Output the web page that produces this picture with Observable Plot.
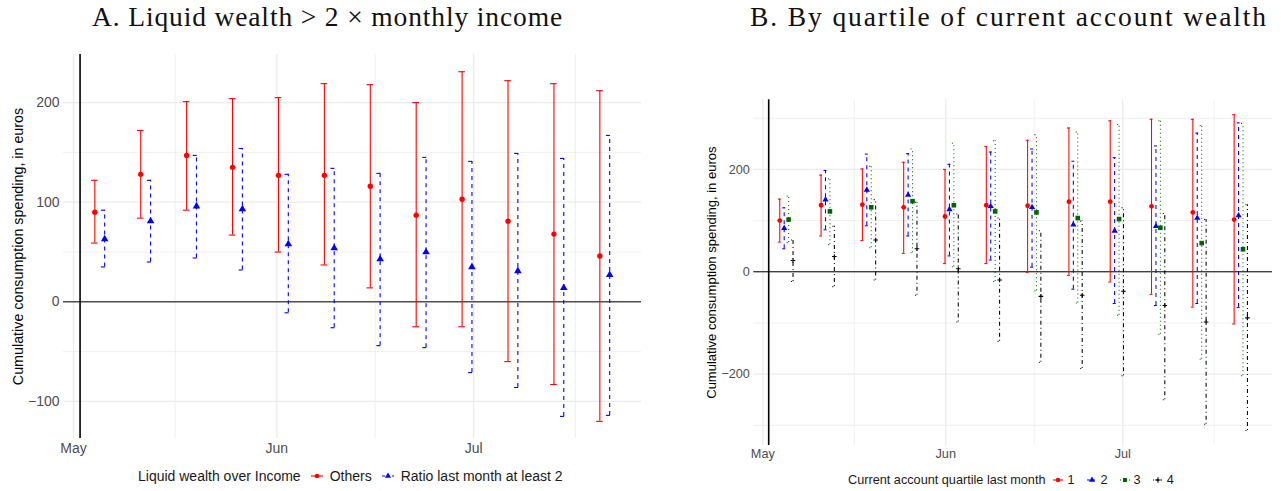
<!DOCTYPE html>
<html>
<head>
<meta charset="utf-8">
<script src="https://cdn.jsdelivr.net/npm/d3@7"></script>
<script src="https://cdn.jsdelivr.net/npm/@observablehq/plot@0.6"></script>
<style>
  html, body { margin: 0; padding: 0; background: #fff; }
  #root { position: relative; width: 1281px; height: 491px; overflow: hidden; font-family: "Liberation Sans", Arial, sans-serif; }
  .panel { position: absolute; top: 0; }
  .title { position: absolute; top: 0; font-family: "Liberation Serif", "DejaVu Serif", serif; font-size: 27.5px; color: #111; white-space: nowrap; line-height: 34px; }
  .legend { position: absolute; color: #1a1a1a; white-space: nowrap; display: flex; align-items: center; height: 20px; }
  .legend svg { display: block; }
</style>
</head>
<body>
<div id="root"></div>
<script>
// Weekly observation dates (estimates are reported once a week)
const weeks = ["2020-05-05", "2020-05-12", "2020-05-19", "2020-05-26", "2020-06-02", "2020-06-09",
               "2020-06-16", "2020-06-23", "2020-06-30", "2020-07-07", "2020-07-14", "2020-07-21"];

// Panel A: liquid wealth over income
const othersEst = [90, 128, 147, 135, 127, 127, 116, 87, 103, 81, 68, 46];
const othersLo  = [59, 84, 92, 67, 50, 37, 14, -25, -25, -60, -83, -120];
const othersHi  = [122, 172, 201, 204, 205, 219, 218, 200, 231, 222, 219, 212];
const ratioEst  = [63, 81, 96, 93, 58, 54, 43, 50, 35, 31, 14, 27];
const ratioLo   = [35, 40, 44, 32, -11, -26, -44, -46, -71, -86, -115, -114];
const ratioHi   = [92, 122, 147, 154, 128, 134, 129, 145, 141, 149, 144, 167];

// Panel B: quartiles of current account wealth
const q1Est = [100, 130, 131, 126, 108, 130, 129, 137, 137, 128, 116, 102];
const q1Lo  = [58, 70, 61, 36, 16, 16, -1, -7, -20, -44, -69, -102];
const q1Hi  = [142, 189, 201, 214, 200, 245, 257, 281, 295, 298, 298, 307];
const q2Est = [85, 141, 160, 150, 122, 128, 126, 92, 80, 89, 105, 110];
const q2Lo  = [45, 82, 90, 70, 31, 23, 9, -34, -62, -66, -62, -70];
const q2Hi  = [125, 198, 230, 231, 210, 234, 240, 216, 223, 246, 271, 291];
const q3Est = [102, 118, 126, 138, 130, 118, 116, 105, 103, 86, 56, 44];
const q3Lo  = [57, 53, 47, 37, 10, -19, -37, -61, -85, -122, -171, -203];
const q3Hi  = [148, 182, 206, 240, 251, 256, 268, 273, 288, 295, 286, 290];
const q4Est = [22, 30, 62, 45, 6, -16, -48, -46, -38, -66, -98, -90];
const q4Lo  = [-19, -29, -16, -46, -98, -136, -177, -189, -203, -250, -298, -310];
const q4Hi  = [62, 89, 141, 136, 113, 105, 80, 99, 125, 114, 102, 131];

// Axis tick labels
const monthTicks = ["2020-05-01", "2020-06-01", "2020-07-01"];
const midMonth   = ["2020-05-16T12:00Z", "2020-06-16T00:00Z", "2020-07-16T12:00Z"];
const yTicksA = [-100, 0, 100, 200];
const yMinorA = [-50, 50, 150];
const yTicksB = [-200, 0, 200];
const yMinorB = [-300, -100, 100, 300];
const eventDate = "2020-05-02";
const yLabel = "Cumulative consumption spending, in euros";

const DAY = 864e5;
const toDate = s => new Date(s);

// Build long-format rows for one series, dodged horizontally by `offset` days
function series(name, est, lo, hi, offset) {
  return weeks.map((w, i) => ({
    series: name,
    x: new Date(+toDate(w) + offset * DAY),
    est: est[i], lo: lo[i], hi: hi[i]
  }));
}

const grid = "#ebebeb";

// Error bar (vertical rule + caps) with its point estimate
function errorMarks(rows, {color, dash, symbol, r, cap, width, stroked = false}) {
  const capX1 = d => new Date(+d.x - cap * DAY);
  const capX2 = d => new Date(+d.x + cap * DAY);
  return [
    Plot.ruleX(rows, {x: "x", y1: "lo", y2: "hi", stroke: color, strokeWidth: width, strokeDasharray: dash}),
    Plot.ruleY(rows, {y: "lo", x1: capX1, x2: capX2, stroke: color, strokeWidth: width, strokeDasharray: dash}),
    Plot.ruleY(rows, {y: "hi", x1: capX1, x2: capX2, stroke: color, strokeWidth: width, strokeDasharray: dash}),
    Plot.dot(rows, stroked
      ? {x: "x", y: "est", symbol: () => symbol, r, stroke: color, strokeWidth: 1.1, fill: "none"}
      : {x: "x", y: "est", symbol: () => symbol, r, fill: color, stroke: "none"})
  ];
}

function frameMarks(minorY, majorY) {
  return [
    Plot.ruleY(minorY, {stroke: grid, strokeWidth: 0.8}),
    Plot.ruleY(majorY, {stroke: grid, strokeWidth: 1.3}),
    Plot.ruleX(midMonth.map(toDate), {stroke: grid, strokeWidth: 0.8}),
    Plot.ruleX(monthTicks.map(toDate), {stroke: grid, strokeWidth: 1.3}),
    Plot.ruleY([0], {stroke: "#000", strokeWidth: 1}),
    Plot.ruleX([toDate(eventDate)], {stroke: "#000", strokeWidth: 1.6})
  ];
}

function basePlot({width, height, margins, xDomain, yDomain, yTicks, fontSize, labelOffset, xPad, marks}) {
  return Plot.plot({
    width, height,
    marginLeft: margins[0], marginRight: margins[1], marginTop: margins[2], marginBottom: margins[3],
    style: {fontFamily: "'Liberation Sans', Arial, sans-serif", fontSize: fontSize + "px", color: "#4d4d4d", background: "transparent", overflow: "visible"},
    x: {type: "utc", domain: xDomain, ticks: monthTicks.map(toDate), tickFormat: d3.utcFormat("%b"), tickSize: 0, tickPadding: xPad, label: null},
    y: {domain: yDomain, ticks: yTicks, tickSize: 0, tickPadding: 4, label: null},
    marks: [
      ...marks,
      Plot.text([yLabel], {frameAnchor: "left", dx: labelOffset, rotate: -90, textAnchor: "middle", fill: "#000", fontSize: fontSize + 0.3, text: d => d})
    ]
  });
}

const root = document.getElementById("root");

// ---- Panel A ----
const rowsOthers = series("Others", othersEst, othersLo, othersHi, -0.75);
const rowsRatio  = series("Ratio last month at least 2", ratioEst, ratioLo, ratioHi, 0.75);

const plotA = basePlot({
  width: 650, height: 460, margins: [63, 9, 54, 22], fontSize: 14, labelOffset: -45, xPad: 5,
  xDomain: [new Date(Date.UTC(2020, 3, 29, 11, 24)), new Date(Date.UTC(2020, 6, 26, 14, 24))],
  yDomain: [-137.2, 248.3], yTicks: yTicksA,
  marks: [
    ...frameMarks(yMinorA, yTicksA),
    ...errorMarks(rowsOthers, {color: "#ff0000", dash: null, symbol: "circle", r: 2.7, cap: 0.5, width: 1.1}),
    ...errorMarks(rowsRatio,  {color: "#0000ff", dash: "4,4", symbol: "triangle", r: 2.8, cap: 0.5, width: 1.1})
  ]
});
const panelA = document.createElement("div");
panelA.className = "panel"; panelA.style.left = "0px";
panelA.appendChild(plotA);
root.appendChild(panelA);

// ---- Panel B ----
const quartiles = [
  {rows: series("1", q1Est, q1Lo, q1Hi, -1.125), color: "#ff0000", dash: null, symbol: "circle", r: 2.4},
  {rows: series("2", q2Est, q2Lo, q2Hi, -0.375), color: "#0000ff", dash: "4,4", symbol: "triangle", r: 2.3},
  {rows: series("3", q3Est, q3Lo, q3Hi, 0.375), color: "#006400", dash: "1,3", symbol: "square", r: 2.6},
  {rows: series("4", q4Est, q4Lo, q4Hi, 1.125), color: "#000000", dash: "1,3,4,3", symbol: "plus", r: 1.6, stroked: true}
];

const plotB = basePlot({
  width: 591, height: 467, margins: [63.3, 9, 99.3, 22], fontSize: 12.7, labelOffset: -41.6, xPad: 3,
  xDomain: [new Date(Date.UTC(2020, 3, 29, 11, 24)), new Date(Date.UTC(2020, 6, 26, 9, 0))],
  yDomain: [-339.5, 336.1], yTicks: yTicksB,
  marks: [
    ...frameMarks(yMinorB, yTicksB),
    ...quartiles.flatMap(q => errorMarks(q.rows, {color: q.color, dash: q.dash, symbol: q.symbol, r: q.r, cap: 0.25, width: 1.05, stroked: !!q.stroked}))
  ]
});
const panelB = document.createElement("div");
panelB.className = "panel"; panelB.style.left = "690px";
panelB.appendChild(plotB);
root.appendChild(panelB);

// ---- Titles (letter-spaced to span their measured width) ----
function addTitle(text, left, targetWidth) {
  const t = document.createElement("div");
  t.className = "title"; t.style.left = left + "px";
  t.textContent = text;
  root.appendChild(t);
  const w = t.getBoundingClientRect().width;
  t.style.letterSpacing = Math.max(0, (targetWidth - w) / text.length) + "px";
}
addTitle("A. Liquid wealth > 2 \u00d7 monthly income", 92, 471);
addTitle("B. By quartile of current account wealth", 750, 518);

// ---- Legends ----
function keySwatch(color, dash, symbol, w, stroked) {
  const s = d3.create("svg").attr("width", w).attr("height", 12);
  s.append("line").attr("x1", 0).attr("x2", w).attr("y1", 6).attr("y2", 6)
    .attr("stroke", color).attr("stroke-width", 1.1).attr("stroke-dasharray", dash);
  const type = {circle: d3.symbolCircle, triangle: d3.symbolTriangle, square: d3.symbolSquare, plus: d3.symbolPlus}[symbol];
  const p = s.append("path").attr("d", d3.symbol(type, symbol === "plus" ? 12 : 16)()).attr("transform", `translate(${w / 2},6)`);
  if (stroked) p.attr("fill", "none").attr("stroke", color).attr("stroke-width", 1.1);
  else p.attr("fill", color);
  return s.node();
}
function addLegend(title, items, {left, top, fontSize, swatch, gapTitle, gapText, gapItem}) {
  const lg = document.createElement("div");
  lg.className = "legend"; lg.style.left = left + "px"; lg.style.top = top + "px";
  lg.style.fontSize = fontSize + "px";
  const t = document.createElement("span"); t.textContent = title; lg.appendChild(t);
  items.forEach((it, i) => {
    const sw = keySwatch(it.color, it.dash, it.symbol, swatch, it.stroked);
    sw.style.marginLeft = (i === 0 ? gapTitle : gapItem) + "px";
    sw.style.marginRight = gapText + "px";
    lg.appendChild(sw);
    const s = document.createElement("span"); s.textContent = it.label; lg.appendChild(s);
  });
  root.appendChild(lg);
}
addLegend("Liquid wealth over Income", [
  {label: "Others", color: "#ff0000", dash: null, symbol: "circle"},
  {label: "Ratio last month at least 2", color: "#0000ff", dash: "3,2", symbol: "triangle"}
], {left: 138, top: 466, fontSize: 14, swatch: 12, gapTitle: 10, gapText: 7, gapItem: 10});
addLegend("Current account quartile last month", [
  {label: "1", color: "#ff0000", dash: null, symbol: "circle"},
  {label: "2", color: "#0000ff", dash: "3,2", symbol: "triangle"},
  {label: "3", color: "#006400", dash: "1,2", symbol: "square"},
  {label: "4", color: "#000000", dash: "1,2,3,2", symbol: "plus", stroked: true}
], {left: 848, top: 470, fontSize: 12.7, swatch: 10, gapTitle: 8, gapText: 4, gapItem: 12});
</script>
</body>
</html>
